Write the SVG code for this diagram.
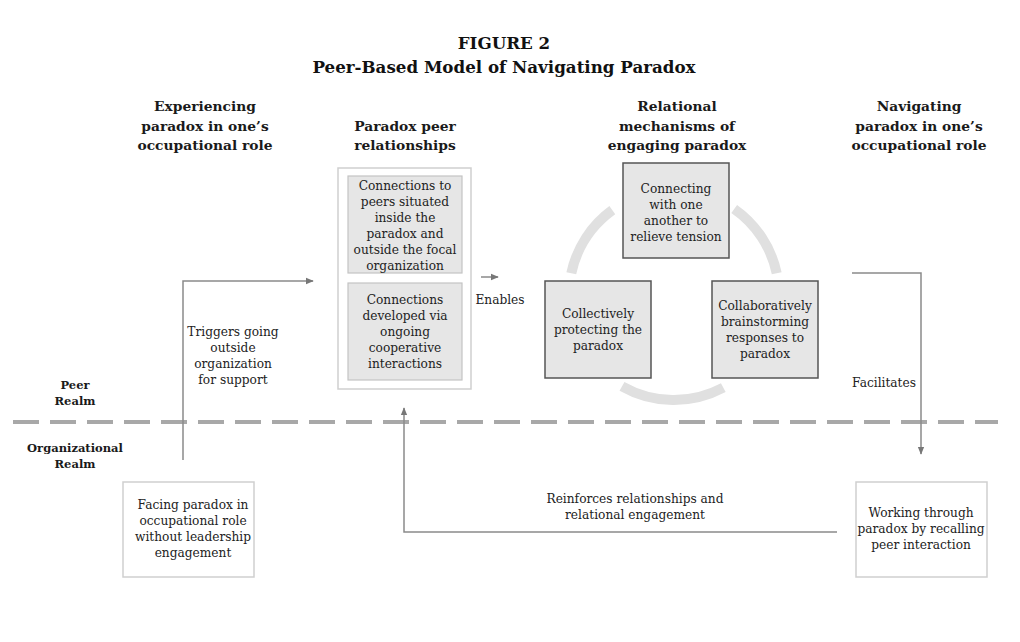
<svg xmlns="http://www.w3.org/2000/svg" width="1020" height="642" viewBox="0 0 1020 642">
<style>
.t{font-family:"DejaVu Serif","Liberation Serif",serif;fill:#222;text-anchor:middle}
.title{font-size:16.7px;font-weight:bold;fill:#111}
.h{font-size:13.8px;font-weight:bold;fill:#1a1a1a}
.r{font-size:11.5px;font-weight:bold;fill:#1a1a1a}
.b{font-size:12.2px}
.conn{fill:none;stroke:#8a8a8a;stroke-width:1.5}
.light{fill:#fff;stroke:#cfcfcf;stroke-width:1.5}
.inner{fill:#e6e6e6;stroke:#c4c4c4;stroke-width:1.2}
.mech{fill:#e6e6e6;stroke:#555;stroke-width:1.5}
.arc{fill:none;stroke:#e0e0e0;stroke-width:10}
</style>
<defs>
<marker id="ah" viewBox="0 0 10 10" refX="9" refY="5" markerWidth="5.5" markerHeight="5.5" orient="auto" markerUnits="strokeWidth">
<path d="M0,1 L10,5 L0,9 Z" fill="#777"/>
</marker>
</defs>
<rect width="1020" height="642" fill="#fff"/>

<g id="title">
<text class="t title" x="504" y="49">FIGURE 2</text>
<text class="t title" x="504" y="73">Peer-Based Model of Navigating Paradox</text>
</g>

<g id="headers">
<text class="t h" x="205" y="111">Experiencing</text>
<text class="t h" x="205" y="131">paradox in one’s</text>
<text class="t h" x="205" y="150">occupational role</text>
<text class="t h" x="405" y="131">Paradox peer</text>
<text class="t h" x="405" y="150">relationships</text>
<text class="t h" x="677" y="111">Relational</text>
<text class="t h" x="677" y="131">mechanisms of</text>
<text class="t h" x="677" y="150">engaging paradox</text>
<text class="t h" x="919" y="111">Navigating</text>
<text class="t h" x="919" y="131">paradox in one’s</text>
<text class="t h" x="919" y="150">occupational role</text>
</g>

<g id="realms">
<text class="t r" x="75" y="389">Peer</text>
<text class="t r" x="75" y="405">Realm</text>
<text class="t r" x="75" y="452">Organizational</text>
<text class="t r" x="75" y="468">Realm</text>
<line x1="13" y1="422" x2="998" y2="422" stroke="#a8a8a8" stroke-width="4" stroke-dasharray="26 11"/>
</g>

<g id="cycle">
<path class="arc" d="M571.3,273.2 A105,105 0 0 1 612.3,210.1"/>
<path class="arc" d="M734.2,209.0 A105,105 0 0 1 776.7,273.2"/>
<path class="arc" d="M723.3,387.7 A105,105 0 0 1 622.0,386.4"/>
</g>

<g id="connectors">
<path class="conn" d="M183,460 V281 H313" marker-end="url(#ah)"/>
<path class="conn" d="M481,277 H498" marker-end="url(#ah)"/>
<path class="conn" d="M852,273 H921 V454" marker-end="url(#ah)"/>
<path class="conn" d="M837,532 H404 V408" marker-end="url(#ah)"/>
<text class="t b" x="233" y="336">Triggers going</text>
<text class="t b" x="233" y="352">outside</text>
<text class="t b" x="233" y="368">organization</text>
<text class="t b" x="233" y="384">for support</text>
<text class="t b" x="500" y="304">Enables</text>
<text class="t b" x="884" y="387">Facilitates</text>
<text class="t b" x="635" y="503">Reinforces relationships and</text>
<text class="t b" x="635" y="519">relational engagement</text>
</g>

<g id="peer-relationships">
<rect class="light" x="338" y="168" width="133" height="221"/>
</g>
<g id="peer-connections-situated">
<rect class="inner" x="348" y="176" width="114" height="97"/>
<text class="t b" x="405" y="190">Connections to</text>
<text class="t b" x="405" y="206">peers situated</text>
<text class="t b" x="405" y="222">inside the</text>
<text class="t b" x="405" y="238">paradox and</text>
<text class="t b" x="405" y="254">outside the focal</text>
<text class="t b" x="405" y="270">organization</text>
</g>
<g id="peer-connections-developed">
<rect class="inner" x="348" y="283" width="114" height="97"/>
<text class="t b" x="405" y="304">Connections</text>
<text class="t b" x="405" y="320">developed via</text>
<text class="t b" x="405" y="336">ongoing</text>
<text class="t b" x="405" y="352">cooperative</text>
<text class="t b" x="405" y="368">interactions</text>
</g>

<g id="mech-connecting">
<rect class="mech" x="623" y="163" width="106" height="95"/>
<text class="t b" x="676" y="193">Connecting</text>
<text class="t b" x="676" y="209">with one</text>
<text class="t b" x="676" y="225">another to</text>
<text class="t b" x="676" y="241">relieve tension</text>
</g>
<g id="mech-protecting">
<rect class="mech" x="545" y="281" width="106" height="97"/>
<text class="t b" x="598" y="318">Collectively</text>
<text class="t b" x="598" y="334">protecting the</text>
<text class="t b" x="598" y="350">paradox</text>
</g>
<g id="mech-brainstorming">
<rect class="mech" x="712" y="281" width="106" height="97"/>
<text class="t b" x="765" y="310">Collaboratively</text>
<text class="t b" x="765" y="326">brainstorming</text>
<text class="t b" x="765" y="342">responses to</text>
<text class="t b" x="765" y="358">paradox</text>
</g>

<g id="facing-paradox">
<rect class="light" x="123" y="482" width="131" height="95"/>
<text class="t b" x="193" y="509">Facing paradox in</text>
<text class="t b" x="193" y="525">occupational role</text>
<text class="t b" x="193" y="541">without leadership</text>
<text class="t b" x="193" y="557">engagement</text>
</g>

<g id="working-through">
<rect class="light" x="856" y="482" width="131" height="95"/>
<text class="t b" x="921" y="517">Working through</text>
<text class="t b" x="921" y="533">paradox by recalling</text>
<text class="t b" x="921" y="549">peer interaction</text>
</g>
</svg>
